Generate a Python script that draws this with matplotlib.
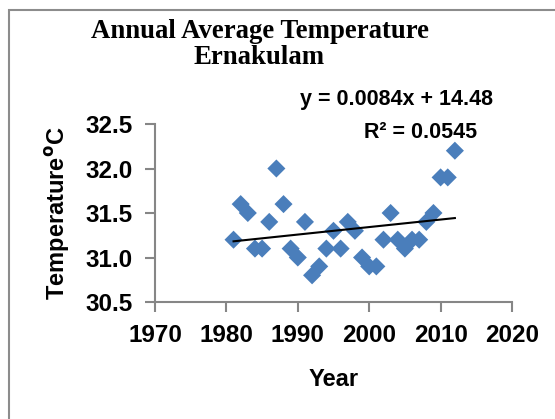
import numpy as np
import matplotlib
matplotlib.use("Agg")
import matplotlib.pyplot as plt
from matplotlib.patches import Rectangle
from matplotlib import font_manager

names = sorted({f.name for f in font_manager.fontManager.ttflist})
narrow = "Liberation Sans Narrow" if "Liberation Sans Narrow" in names else "Liberation Sans"
print(narrow)

years = [1981, 1982, 1983, 1984, 1985, 1986, 1987, 1988, 1989, 1990,
         1991, 1992, 1993, 1994, 1995, 1996, 1997, 1998, 1999, 2000,
         2001, 2002, 2003, 2004, 2005, 2006, 2007, 2008, 2009, 2010,
         2011, 2012]
temps = [31.2, 31.6, 31.5, 31.1, 31.1, 31.4, 32.0, 31.6, 31.1, 31.0,
         31.4, 30.8, 30.9, 31.1, 31.3, 31.1, 31.4, 31.3, 31.0, 30.9,
         30.9, 31.2, 31.5, 31.2, 31.1, 31.2, 31.2, 31.4, 31.5, 31.9,
         31.9, 32.2]
xticks = [1970, 1980, 1990, 2000, 2010, 2020]
yticks = [30.5, 31.0, 31.5, 32.0, 32.5]
ytick_labels = ["30.5", "31.0", "31.5", "32.0", "32.5"]

W, H = 555, 419
fig = plt.figure(figsize=(W / 100, H / 100), dpi=100)
fig.patch.set_facecolor("white")

# outer chart border
fig.patches.append(Rectangle((9 / W, -0.1), 1.2, (H - 10) / H + 0.1,
                             transform=fig.transFigure, fill=False,
                             edgecolor="#8c8c8c", linewidth=1.5))

l, r, t, b = 155, 512, 124, 302
ax = fig.add_axes([l / W, 1 - b / H, (r - l) / W, (b - t) / H])

ax.scatter(years, temps, marker="D", s=9.2 ** 2, color="#4a7ebb",
           edgecolors="none", zorder=3)

coef = np.polyfit(years, temps, 1)
xs = np.array([min(years), max(years)])
ax.plot(xs, np.polyval(coef, xs), color="black", linewidth=1.5, zorder=4)

ax.set_xlim(1970, 2020)
ax.set_ylim(30.5, 32.5)
ax.set_xticks(xticks)
ax.set_yticks(yticks)
ax.set_yticklabels(ytick_labels)

for s in ["top", "right"]:
    ax.spines[s].set_visible(False)
for s in ["left", "bottom"]:
    ax.spines[s].set_color("#868686")
    ax.spines[s].set_linewidth(1.5)
ax.tick_params(direction="out", length=7, width=1.5, color="#868686",
               labelsize=17.5)
ax.tick_params(axis="x", pad=9)
ax.tick_params(axis="y", pad=9)
for lab in ax.get_xticklabels() + ax.get_yticklabels():
    lab.set_fontfamily("Liberation Sans")
    lab.set_fontweight("bold")

ax.set_xlabel("Year", fontsize=17, fontweight="bold",
              fontfamily="Liberation Sans", labelpad=15)
ax.set_ylabel("Temperature$^{\\mathbf{o}}$C", fontsize=17, fontweight="bold",
              fontfamily="Liberation Sans", labelpad=10)

fig.text(260 / W, 1 - 31 / H, "Annual Average Temperature", ha="center",
         va="center", fontsize=19.3, fontweight="bold",
         fontfamily="Liberation Serif")
fig.text(259 / W, 1 - 58 / H, "Ernakulam", ha="center", va="center",
         fontsize=19.3, fontweight="bold", fontfamily="Liberation Serif")

eq_size = 17.5 if narrow != "Liberation Sans" else 15.5
fig.text(493 / W, 1 - 100 / H, "y = 0.0084x + 14.48", ha="right",
         va="center", fontsize=eq_size, fontweight="bold",
         fontfamily=narrow)
fig.text(477 / W, 1 - 132 / H, "R² = 0.0545", ha="right", va="center",
         fontsize=eq_size, fontweight="bold", fontfamily=narrow)

fig.savefig("out.png", dpi=100, facecolor="white")
